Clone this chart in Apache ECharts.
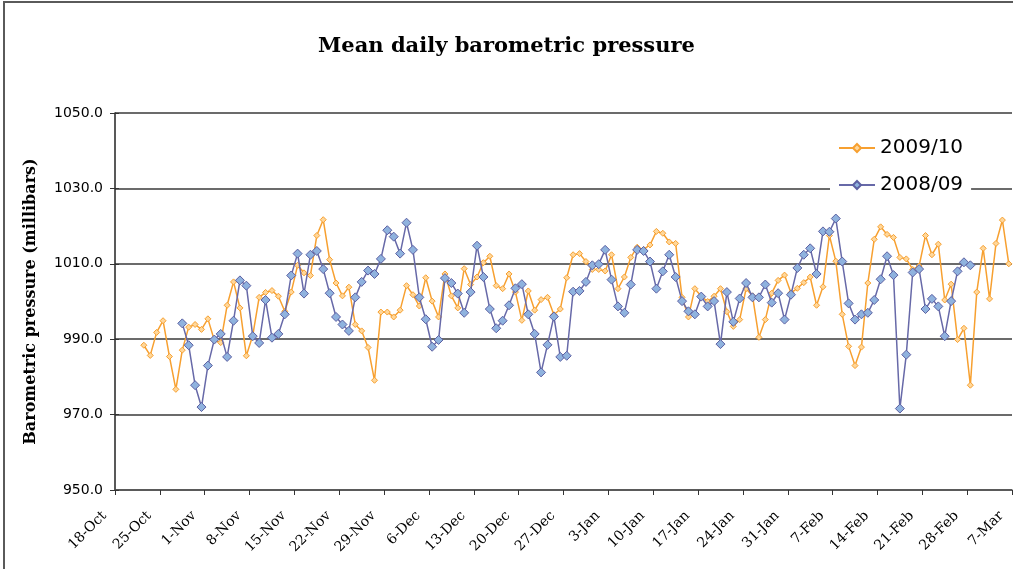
<!DOCTYPE html>
<html>
<head>
<meta charset="utf-8">
<title>Mean daily barometric pressure</title>
<script src="https://cdn.jsdelivr.net/npm/echarts@6/dist/echarts.min.js"></script>
<style>
  html, body { margin: 0; padding: 0; background: #ffffff; }
  #chart { width: 1013px; height: 569px; }
</style>
</head>
<body>
<div id="chart"></div>
<script>
// Weekly tick labels along the x axis (day 0 = 18-Oct, one tick every 7 days)
const tickLabels = ['18-Oct', '25-Oct', '1-Nov', '8-Nov', '15-Nov', '22-Nov', '29-Nov',
  '6-Dec', '13-Dec', '20-Dec', '27-Dec', '3-Jan', '10-Jan', '17-Jan', '24-Jan',
  '31-Jan', '7-Feb', '14-Feb', '21-Feb', '28-Feb', '7-Mar'];

// Day offset (from 18-Oct) of the first reading of each season
const start2009 = 4;   // 22-Oct
const start2008 = 10;  // 28-Oct

// Mean daily pressure, millibars, one value per consecutive day
const pressure2009 = [
  988.4, 985.7, 991.8, 994.9, 985.4, 976.7, 987.1, 993.2, 993.9, 992.6,
  995.4, 989.7, 989.1, 999.0, 1005.2, 998.3, 985.6, 991.0, 1001.1, 1002.4,
  1002.9, 1001.4, 997.4, 1002.5, 1009.6, 1007.6, 1006.9, 1017.5, 1021.7, 1011.1,
  1004.9, 1001.5, 1003.8, 993.9, 992.2, 987.8, 979.1, 997.2, 997.2, 995.9,
  997.7, 1004.2, 1001.8, 998.8, 1006.3, 1000.1, 995.9, 1007.3, 1001.5, 998.3,
  1008.7, 1004.5, 1006.5, 1010.3, 1012.0, 1004.2, 1003.4, 1007.3, 1002.5, 995.0,
  1002.8, 997.7, 1000.5, 1001.1, 996.5, 998.0, 1006.3, 1012.4, 1012.7, 1010.6,
  1008.5, 1008.5, 1008.1, 1012.4, 1003.4, 1006.5, 1011.7, 1014.4, 1013.8, 1015.0,
  1018.6, 1018.1, 1015.8, 1015.4, 1001.1, 995.9, 1003.4, 1001.4, 1000.0, 1001.4,
  1003.4, 997.3, 993.4, 995.2, 1003.4, 1001.5, 990.5, 995.2, 1002.2, 1005.6,
  1007.0, 1002.3, 1003.5, 1005.0, 1006.5, 999.0, 1003.9, 1017.5, 1010.7, 996.6,
  988.1, 983.0, 987.9, 1004.9, 1016.5, 1019.8, 1017.8, 1017.0, 1011.7, 1011.3,
  1008.5, 1009.4, 1017.5, 1012.4, 1015.2, 1000.4, 1004.6, 989.9, 992.9, 977.8,
  1002.5, 1014.1, 1000.7, 1015.4, 1021.6, 1010.0
];

const pressure2008 = [
  994.2, 988.4, 977.8, 972.0, 983.0, 989.9, 991.4, 985.3, 994.9, 1005.6,
  1004.2, 990.8, 989.0, 1000.4, 990.4, 991.4, 996.6, 1006.9, 1012.7, 1002.1,
  1012.4, 1013.4, 1008.6, 1002.2, 995.9, 993.9, 992.2, 1001.1, 1005.2, 1008.2,
  1007.3, 1011.3, 1018.9, 1017.2, 1012.7, 1020.9, 1013.7, 1001.1, 995.3, 988.0,
  989.8, 1006.2, 1004.9, 1002.1, 997.0, 1002.5, 1014.8, 1006.5, 998.0, 992.9,
  994.9, 999.0, 1003.5, 1004.6, 996.6, 991.4, 981.2, 988.5, 996.0, 985.3,
  985.6, 1002.6, 1002.8, 1005.2, 1009.6, 1009.9, 1013.7, 1005.8, 998.7, 997.0,
  1004.5, 1013.7, 1013.4, 1010.6, 1003.4, 1008.0, 1012.4, 1006.5, 1000.1, 997.4,
  996.6, 1001.3, 998.7, 1000.1, 988.7, 1002.5, 994.6, 1000.8, 1004.9, 1001.1,
  1001.1, 1004.5, 999.7, 1002.2, 995.2, 1001.8, 1008.9, 1012.4, 1014.1, 1007.3,
  1018.6, 1018.5, 1022.0, 1010.6, 999.5, 995.2, 996.6, 997.0, 1000.4, 1005.9,
  1012.0, 1007.0, 971.6, 985.9, 1007.7, 1008.6, 998.0, 1000.7, 998.7, 990.8,
  1000.1, 1008.0, 1010.4, 1009.6
];

// Each day's reading sits in the middle of its day slot
function toPoints(values, startDay) {
  return values.map((v, i) => [startDay + i + 0.5, v]);
}

const yMin = 950, yMax = 1050, yStep = 20;

const chart = echarts.init(document.getElementById('chart'), null, { renderer: 'canvas' });

chart.setOption({
  backgroundColor: '#ffffff',
  animation: false,
  graphic: [{
    type: 'rect',
    shape: { x: 4, y: 2, width: 1030, height: 600 },
    style: { fill: 'none', stroke: '#5a5a5a', lineWidth: 2 },
    silent: true,
    z: 0
  }],
  title: {
    text: 'Mean daily barometric pressure',
    left: 'center',
    top: 31,
    textStyle: {
      fontFamily: 'DejaVu Serif',
      fontWeight: 'bold',
      fontSize: 21,
      color: '#000000'
    }
  },
  legend: {
    orient: 'vertical',
    left: 830,
    top: 134,
    padding: [4, 8, 4, 8],
    itemGap: 17,
    itemWidth: 36,
    itemHeight: 10,
    backgroundColor: '#ffffff',
    textStyle: { fontFamily: 'DejaVu Sans', fontSize: 20, color: '#000000' },
    data: ['2009/10', '2008/09']
  },
  grid: {
    left: 115,
    right: 1,
    top: 113,
    bottom: 79,
    containLabel: false
  },
  xAxis: {
    type: 'value',
    min: 0,
    max: 140,
    interval: 7,
    axisLine: { show: true, lineStyle: { color: '#555555', width: 1.5 } },
    axisTick: { show: true, length: 5, lineStyle: { color: '#333333' } },
    splitLine: { show: false },
    axisLabel: {
      rotate: 45,
      margin: 13,
      padding: [0, 15, 0, 0],
      fontFamily: 'DejaVu Serif',
      fontSize: 14,
      color: '#000000',
      formatter: v => tickLabels[Math.round(v / 7)] || ''
    }
  },
  yAxis: [
    {
      type: 'value',
      min: yMin,
      max: yMax,
      interval: yStep,
      name: 'Barometric pressure (millibars)',
      nameLocation: 'middle',
      nameGap: 76,
      nameTextStyle: {
        fontFamily: 'DejaVu Serif',
        fontWeight: 'bold',
        fontSize: 16,
        color: '#000000'
      },
      axisLine: { show: true, lineStyle: { color: '#222222', width: 1.5 } },
      axisTick: { show: true, length: 5, lineStyle: { color: '#333333' } },
      splitLine: { show: true, lineStyle: { color: '#3a3a3a', width: 1.5 } },
      axisLabel: {
        margin: 12,
        fontFamily: 'DejaVu Sans',
        fontSize: 14,
        color: '#000000',
        formatter: v => v.toFixed(1)
      }
    },
    {
      // inner half of the cross-shaped y ticks
      type: 'value',
      position: 'left',
      min: yMin,
      max: yMax,
      interval: yStep,
      axisLine: { show: false },
      axisTick: { show: true, inside: true, length: 4, lineStyle: { color: '#333333' } },
      axisLabel: { show: false },
      splitLine: { show: false }
    }
  ],
  series: [
    {
      name: '2009/10',
      type: 'line',
      data: toPoints(pressure2009, start2009),
      symbol: 'diamond',
      symbolSize: 6,
      showAllSymbol: true,
      lineStyle: { color: '#f7a030', width: 1.5 },
      itemStyle: { color: '#ffd79a', borderColor: '#f7a030', borderWidth: 1 },
      z: 2
    },
    {
      name: '2008/09',
      type: 'line',
      data: toPoints(pressure2008, start2008),
      symbol: 'diamond',
      symbolSize: 9,
      showAllSymbol: true,
      lineStyle: { color: '#6769a8', width: 1.5 },
      itemStyle: { color: '#8fb2de', borderColor: '#5c60a2', borderWidth: 1 },
      z: 3
    }
  ]
});
</script>
</body>
</html>
